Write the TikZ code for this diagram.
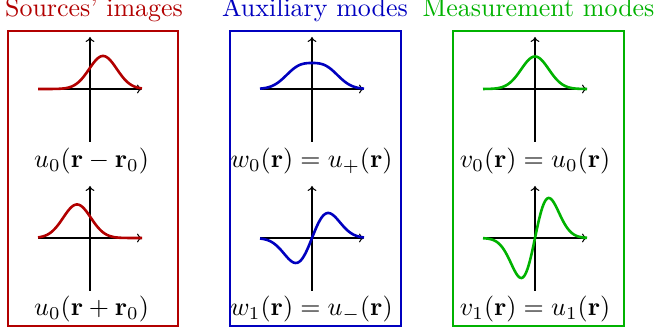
\documentclass[tikz,border=0pt]{standalone}
\usepackage{amsmath,amssymb}
\usepackage{tikz}
\usetikzlibrary{arrows.meta}

\colorlet{srccol}{red!70!black}
\colorlet{auxcol}{blue!75!black}
\colorlet{meascol}{green!70!black}

\begin{document}
\begin{tikzpicture}[x=0.385pt, y=0.385pt, declare function={gs(\t)=exp(0-\t*\t);}]
\tikzstyle{panel}=[draw, line width=0.8pt, minimum width=65.8pt, minimum height=113.6pt, inner sep=0pt]
\tikzstyle{title}=[anchor=base, inner sep=0pt]
\tikzstyle{lbl}=[anchor=base, inner sep=0pt]
\tikzstyle{axis}=[-{To[length=1.9pt, width=3.4pt]}, line width=0.4pt]
\tikzstyle{curve}=[line width=1pt, samples=101, domain=-52:52]
\useasboundingbox (0,0) rectangle (655,335);

% panels and titles
\node[panel, srccol] (srcbox) at (93,156.5) {};
\node[panel, auxcol] (auxbox) at (315.5,156.5) {};
\node[panel, meascol] (measbox) at (538.3,156.5) {};
\node[title, text=srccol] (srctitle) at (94,318) {Sources' images};
\node[title, text=auxcol] (auxtitle) at (315,318) {Auxiliary modes};
\node[title, text=meascol] (meastitle) at (538.5,318) {Measurement modes};

% axes
\foreach \cx/\nm in {90/src, 312/aux, 535/meas} {
  \foreach \ay/\r in {246/a, 97/b} {
    \coordinate (\nm\r-w) at (\cx-52,\ay);
    \coordinate (\nm\r-e) at (\cx+52,\ay);
    \coordinate (\nm\r-s) at (\cx,\ay-53);
    \coordinate (\nm\r-n) at (\cx,\ay+52);
    \draw[axis] (\nm\r-w) -- (\nm\r-e);
    \draw[axis] (\nm\r-s) -- (\nm\r-n);
  }
}

% mode profiles
\draw[curve, srccol] plot ({90+\x},{246+33*gs((\x-13)/19.5)});
\draw[curve, srccol] plot ({90+\x},{97+33.5*gs((\x+13)/19.5)});
\draw[curve, auxcol] plot ({312+\x},{246+20.3*(gs((\x-13)/19.5)+gs((\x+13)/19.5))});
\draw[curve, auxcol] plot ({312+\x},{97+28.8*(gs((\x-13)/19.5)-gs((\x+13)/19.5))});
\draw[curve, meascol] plot ({535+\x},{246+32.5*gs(\x/19.5)});
\draw[curve, meascol] plot ({535+\x},{97+40*(\x/13.79)*exp(0.5)*gs(\x/19.5)});

% labels
\node[lbl] (srca-lbl) at (91.5,167) {$u_0(\mathbf{r}-\mathbf{r}_0)$};
\node[lbl] (srcb-lbl) at (91.5,19) {$u_0(\mathbf{r}+\mathbf{r}_0)$};
\node[lbl] (auxa-lbl) at (311.5,167) {$w_0(\mathbf{r}) = u_+(\mathbf{r})$};
\node[lbl] (auxb-lbl) at (311.5,19) {$w_1(\mathbf{r}) = u_-(\mathbf{r})$};
\node[lbl] (measa-lbl) at (535,167) {$v_0(\mathbf{r}) = u_0(\mathbf{r})$};
\node[lbl] (measb-lbl) at (535,19) {$v_1(\mathbf{r}) = u_1(\mathbf{r})$};
\end{tikzpicture}
\end{document}
